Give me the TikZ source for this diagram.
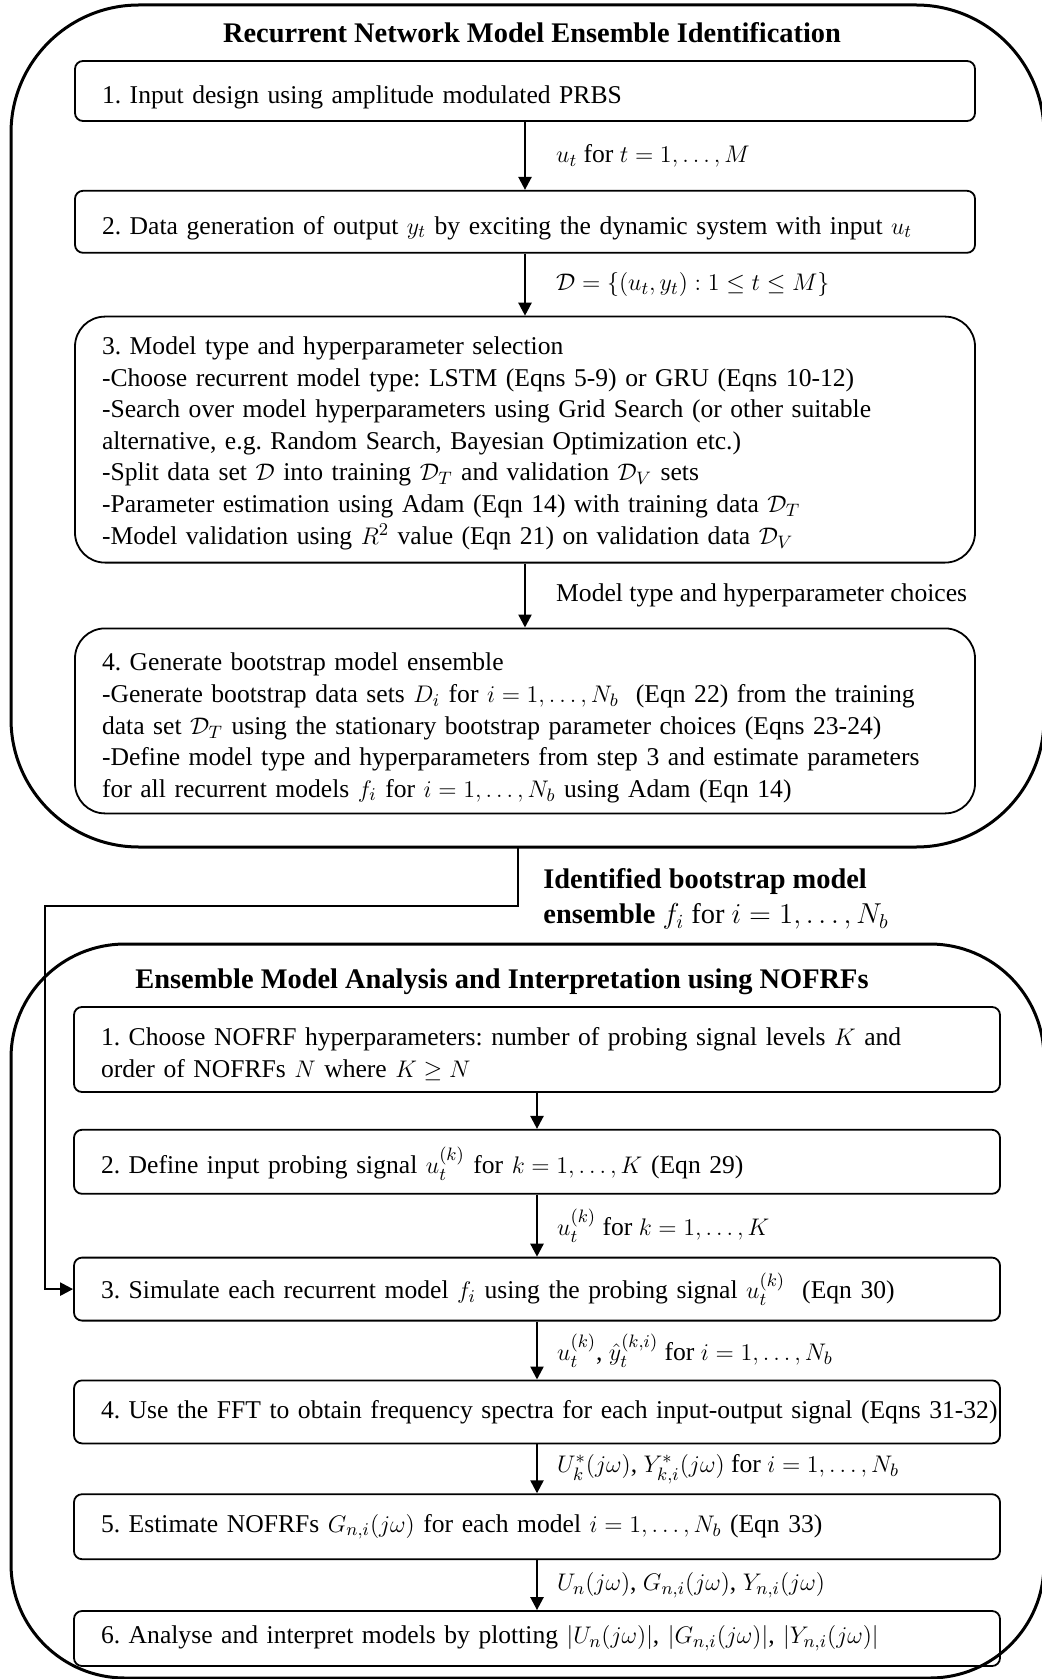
\documentclass[tikz,border=0pt]{standalone}
\usepackage{amsmath}
\usepackage{amssymb}
\usepackage{fontspec}
\setmainfont{Liberation Serif}
\usepackage{tikz}
\usetikzlibrary{arrows.meta, positioning}

\newcommand{\boxfont}{\fontsize{12.8}{15.8}\selectfont}
\newcommand{\headfont}{\fontsize{14.2}{17.5}\selectfont\bfseries}

\begin{document}
\frenchspacing
\begin{tikzpicture}[
    x=0.5pt, y=-0.5pt,
    node distance=30pt,
    frame/.style={rectangle, draw, line width=1.5pt, rounded corners=64pt},
    stepbox/.style={rectangle, draw, line width=0.9pt, rounded corners=4pt, text width=423pt, inner xsep=13.5pt, align=left, font=\boxfont},
    stagebox/.style={stepbox, rounded corners=15pt},
    nofrfbox/.style={stepbox, text width=436pt},
    heading/.style={font=\headfont},
    lbl/.style={inner sep=0pt, font=\boxfont, align=left},
    arrow/.style={-{Triangle[length=6.5pt, width=6.5pt]}, line width=1.2pt}
  ]
    \useasboundingbox (0,0) rectangle (1041,1679);

    % the two stages
    \node[frame, minimum width=516.5pt, minimum height=421pt] (ident) at (527.5,426) {};
    \node[frame, rounded corners=57pt, minimum width=516.5pt, minimum height=367pt] (nofrf) at (527.5,1311) {};
    \node[heading] (title1) at (532,33) {Recurrent Network Model Ensemble Identification};
    \node[heading] (title2) at (502,982) {Ensemble Model Analysis and Interpretation using NOFRFs};

    % identification
    \node[stepbox, minimum height=30pt, text height=15pt] (input) at (525,91) {1. Input design using amplitude modulated PRBS};
    \node[stepbox, minimum height=31pt, text height=15pt, below=34pt of input] (datagen) {2. Data generation of output $y_t$ by exciting the dynamic system with input $u_t$};
    \node[stagebox, minimum height=123pt, text height=12.5pt, below=31pt of datagen] (select) {3. Model type and hyperparameter selection\\
      -Choose recurrent model type: LSTM (Eqns 5-9) or GRU (Eqns 10-12)\\
      -Search over model hyperparameters using Grid Search (or other suitable\\
      alternative, e.g. Random Search, Bayesian Optimization etc.)\\
      -Split data set $\mathcal{D}$ into training $\mathcal{D}_T$ and validation $\mathcal{D}_V$ sets\\
      -Parameter estimation using Adam (Eqn 14) with training data $\mathcal{D}_T$\\
      -Model validation using $R^2$ value (Eqn 21) on validation data $\mathcal{D}_V$};
    \node[stagebox, minimum height=92.5pt, text height=16pt, below=32pt of select] (ensemble) {4. Generate bootstrap model ensemble\\
      -Generate bootstrap data sets $D_i$ for $i = 1, \dots, N_b$~ (Eqn 22) from the training\\
      \mbox{data set $\mathcal{D}_T$ using the stationary bootstrap parameter choices (Eqns 23-24)}\\
      -Define model type and hyperparameters from step 3 and estimate parameters\\
      for all recurrent models $f_i$ for $i = 1, \dots, N_b$ using Adam (Eqn 14)};

    \draw[arrow] (input) -- node[lbl, right=15pt] {$u_t$ for $t = 1, \dots, M$} (datagen);
    \draw[arrow] (datagen) -- node[lbl, right=15pt] {$\mathcal{D} = \{(u_t, y_t) : 1 \leq t \leq M\}$} (select);
    \draw[arrow] (select) -- node[lbl, right=15pt] {Model type and hyperparameter choices} (ensemble);

    % analysis
    \node[nofrfbox, minimum height=42.5pt, text height=13.5pt] (choose) at (537,1049.5) {1. Choose NOFRF hyperparameters: number of probing signal levels $K$ and\\
      order of NOFRFs $N$ where $K \geq N$};
    \node[nofrfbox, minimum height=32pt, text height=15.3pt, below=18pt of choose] (probe) {2. Define input probing signal $u_t^{(k)}$ for $k = 1, \dots, K$ (Eqn 29)};
    \node[nofrfbox, minimum height=31.5pt, below=31pt of probe] (simulate) {3. Simulate each recurrent model $f_i$ using the probing signal $u_t^{(k)}$~ (Eqn 30)};
    \node[nofrfbox, minimum height=31.5pt, below=29pt of simulate] (fft) {\mbox{4. Use the FFT to obtain frequency spectra for each input-output signal (Eqns 31-32)}};
    \node[nofrfbox, minimum height=32.5pt, below=24.5pt of fft] (estimate) {5. Estimate NOFRFs $G_{n,i}(j\omega)$ for each model $i = 1, \dots, N_b$ (Eqn 33)};
    \node[nofrfbox, minimum height=27.5pt, below=25pt of estimate] (plot) {6. Analyse and interpret models by plotting $|U_n(j\omega)|$, $|G_{n,i}(j\omega)|$, $\left|Y_{n,i}(j\omega)\right|$};

    \draw[arrow] (choose) -- (probe);
    \draw[arrow] (probe) -- node[lbl, right=9.5pt] {$u_t^{(k)}$ for $k = 1, \dots, K$} (simulate);
    \draw[arrow] (simulate) -- node[lbl, right=9.5pt] {$u_t^{(k)}$, $\hat{y}_t^{(k,i)}$ for $i = 1, \dots, N_b$} (fft);
    \draw[arrow] (fft) -- node[lbl, right=9.5pt] {$U_k^*(j\omega)$, $Y_{k,i}^*(j\omega)$ for $i = 1, \dots, N_b$} (estimate);
    \draw[arrow] (estimate) -- node[lbl, right=9.5pt] {$U_n(j\omega)$, $G_{n,i}(j\omega)$, $Y_{n,i}(j\omega)$} (plot);

    % hand-over between the stages
    \coordinate (split) at (518,847);
    \coordinate (turn) at (45,906);
    \draw[arrow] (split) |- (turn) |- (simulate.west);
    \node[lbl, font=\headfont, anchor=west] (handover) at (543,899) {Identified bootstrap model\\
      ensemble \mdseries $f_i$ for $i = 1, \dots, N_b$};
  \end{tikzpicture}
\end{document}
